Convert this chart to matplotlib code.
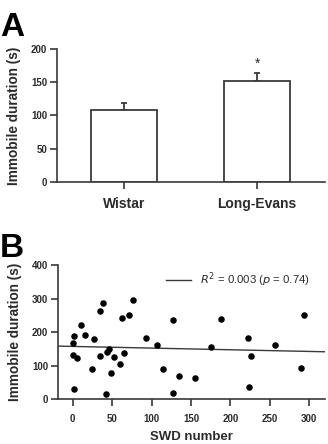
import matplotlib
matplotlib.use("Agg")
import matplotlib.pyplot as plt
import numpy as np

# panel A: immobile duration by strain
strains = ["Wistar", "Long-Evans"]
immobile_mean = [108, 152]
immobile_sem = [10, 12]
star_y = 178

# panel B: SWD number vs immobile duration
swd = [1.7, 1, 1, 5.5, 2, 11, 15, 24, 27.5, 34, 34, 38, 42, 44, 46, 49, 52,
       60, 63, 64.5, 72, 76, 93, 107, 114, 127, 127, 135, 155, 176, 188,
       222, 226, 224, 257, 289, 293]
immobile = [189, 167, 132, 121, 31, 220, 191, 90, 180, 263, 127, 288, 15,
            140, 149, 78, 125, 105, 241, 136, 251, 297, 181, 160, 91, 235,
            19, 70, 64, 156, 238, 181, 127, 35, 160, 93, 252]
fit_intercept = 157
fit_slope = -0.05

plt.rcParams["font.family"] = ["Liberation Sans", "DejaVu Sans"]
TXT = "#2b2b2b"
LINE = "#3a3a3a"

fig = plt.figure(figsize=(3.28, 4.44), dpi=100)

# ---- A ----
ax = fig.add_axes([0.174, 0.590, 0.817, 0.300])
x = np.arange(len(strains))
ax.bar(x, immobile_mean, width=0.5, color="white", edgecolor=LINE,
       linewidth=1.3, zorder=2)
ax.errorbar(x, immobile_mean, yerr=[[0, 0], immobile_sem], fmt="none",
            ecolor=LINE, elinewidth=1.3, capsize=2.5, capthick=1.3, zorder=1)
ax.text(1, star_y, "*", ha="center", va="center", fontsize=10, color=TXT)
ax.set_xlim(-0.504, 1.511)
ax.set_ylim(0, 200)
ax.set_yticks([0, 50, 100, 150, 200])
ax.set_xticks(x)
ax.set_xticklabels(strains, fontsize=10, fontweight="bold", color=TXT)
ax.set_ylabel("Immobile duration (s)", fontsize=9.8, fontweight="bold",
              color=TXT, labelpad=7)

# ---- B ----
bx = fig.add_axes([0.176, 0.1014, 0.815, 0.3016])
bx.scatter(swd, immobile, s=22, color="black", linewidths=0, zorder=3)
xl = np.array([-19, 320])
bx.plot(xl, fit_intercept + fit_slope * xl, color=LINE, linewidth=1.0,
        label=r"$R^2$ = 0.003 ($p$ = 0.74)")
bx.set_xlim(-19, 320)
bx.set_ylim(0, 400)
bx.set_xticks([0, 50, 100, 150, 200, 250, 300])
bx.set_yticks([0, 100, 200, 300, 400])
bx.set_xlabel("SWD number", fontsize=9.5, fontweight="bold", color=TXT,
              labelpad=5)
bx.set_ylabel("Immobile duration (s)", fontsize=9.8, fontweight="bold",
              color=TXT, labelpad=7)
leg = bx.legend(loc="upper right", frameon=False, fontsize=8.2,
                handlelength=2.2, handletextpad=0.8, borderaxespad=0.3,
                bbox_to_anchor=(0.975, 1.02))
for t in leg.get_texts():
    t.set_color(TXT)

for a in (ax, bx):
    for s in ("top", "right"):
        a.spines[s].set_visible(False)
    for s in ("left", "bottom"):
        a.spines[s].set_linewidth(1.2)
        a.spines[s].set_color(LINE)
    a.tick_params(axis="both", length=5, width=1.2, color=LINE,
                  labelcolor=TXT, pad=2)
    a.tick_params(axis="x", pad=6)
    a.tick_params(axis="y", labelsize=7)
    for lab in a.get_yticklabels():
        lab.set_fontweight("bold")
bx.tick_params(axis="x", labelsize=7)
for lab in bx.get_xticklabels():
    lab.set_fontweight("bold")

fig.text(0.0, 0.918, "A", fontsize=24, fontweight="bold", color="black",
         va="baseline")
fig.text(0.0, 0.422, "B", fontsize=24, fontweight="bold", color="black",
         va="baseline")

fig.savefig("out.png", dpi=100)
